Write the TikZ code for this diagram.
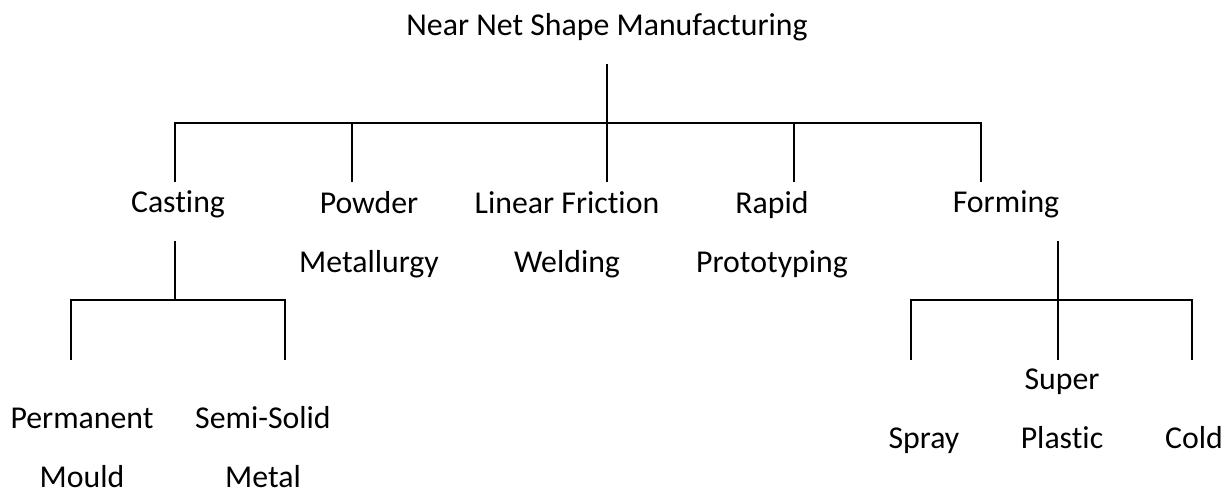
\documentclass[tikz,border=0pt]{standalone}
\usepackage{fontspec}
\setmainfont{Carlito}[Ligatures={NoCommon}]
\begin{document}
\begin{tikzpicture}[x=1pt,y=-1pt,
  lbl/.style={anchor=base,inner sep=0pt,align=center,font=\fontsize{31.8}{59}\selectfont},
  vline/.style={line width=1.4pt},
  hline/.style={line width=2pt,line cap=rect}]
\useasboundingbox (0,0) rectangle (1229,493);
% text (multi-line nodes are anchored at the baseline of their last line)
\node[lbl] (root) at (607,35) {Near Net Shape Manufacturing};
\node[lbl] (cast) at (178,212) {Casting};
\node[lbl] (pm) at (369,272) {Powder\\Metallurgy};
\node[lbl] (lfw) at (567,272) {Linear Friction\\Welding};
\node[lbl] (rp) at (772,272) {Rapid\\Prototyping};
\node[lbl] (form) at (1006,212) {Forming};
\node[lbl] (perm) at (82,487) {Permanent\\Mould};
\node[lbl] (semi) at (263,487) {Semi-Solid\\Metal};
\node[lbl] (spray) at (924,448) {Spray};
\node[lbl] (sp) at (1062,448) {Super\\Plastic};
\node[lbl] (cold) at (1194,448) {Cold};
% junction coordinates
\coordinate (r0) at (607,64);
\coordinate (r1) at (607,123);
\coordinate (b1) at (175,123);
\coordinate (b2) at (352,123);
\coordinate (b4) at (794,123);
\coordinate (b5) at (981,123);
\coordinate (c1) at (175,182);
\coordinate (c2) at (352,182);
\coordinate (c3) at (607,182);
\coordinate (c4) at (794,182);
\coordinate (c5) at (981,182);
\coordinate (k0) at (175,241);
\coordinate (k1) at (175,300);
\coordinate (kl) at (71,300);
\coordinate (kr) at (285,300);
\coordinate (kl2) at (71,360);
\coordinate (kr2) at (285,360);
\coordinate (f0) at (1058,241);
\coordinate (f1) at (1058,300);
\coordinate (fl) at (911,300);
\coordinate (fr) at (1192,300);
\coordinate (fl2) at (911,360);
\coordinate (fm2) at (1058,360);
\coordinate (fr2) at (1192,360);
% top level
\draw[hline] (b1) -- (b5);
\draw[vline] (r0) -- (r1);
\draw[vline] (b1) -- (c1);
\draw[vline] (b2) -- (c2);
\draw[vline] (r1) -- (c3);
\draw[vline] (b4) -- (c4);
\draw[vline] (b5) -- (c5);
% casting branch
\draw[hline] (kl) -- (kr);
\draw[vline] (k0) -- (k1);
\draw[vline] (kl) -- (kl2);
\draw[vline] (kr) -- (kr2);
% forming branch
\draw[hline] (fl) -- (fr);
\draw[vline] (f0) -- (f1);
\draw[vline] (fl) -- (fl2);
\draw[vline] (f1) -- (fm2);
\draw[vline] (fr) -- (fr2);
\end{tikzpicture}
\end{document}
